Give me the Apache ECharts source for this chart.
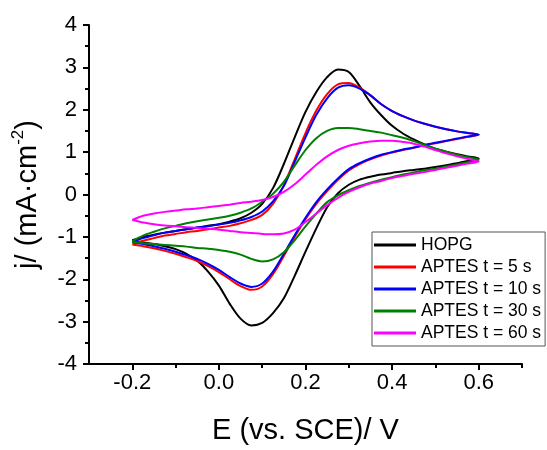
<!DOCTYPE html>
<html><head><meta charset="utf-8">
<script src="https://cdn.jsdelivr.net/npm/echarts@6/dist/echarts.min.js"></script>
<style>html,body{margin:0;padding:0;background:#fff}#c{width:547px;height:450px}</style>
</head><body><div id="c"></div>
<script>
// Potential grid (V vs. SCE), shared by the forward and reverse scans
const potentials = [-0.2, -0.175, -0.15, -0.125, -0.1, -0.075, -0.05, -0.025, 0, 0.025, 0.05, 0.075, 0.1, 0.125, 0.15, 0.175, 0.2, 0.225, 0.25, 0.275, 0.3, 0.325, 0.35, 0.375, 0.4, 0.425, 0.45, 0.475, 0.5, 0.525, 0.55, 0.575, 0.6];
const seriesNames = ['HOPG', 'APTES t = 5 s', 'APTES t = 10 s', 'APTES t = 30 s', 'APTES t = 60 s'];
const seriesColors = ['#000000', '#ff0000', '#0000ff', '#008000', '#ff00ff'];

// current density j (mA/cm2); Fwd = anodic sweep, Rev = cathodic sweep (both listed by increasing E)
const hopgFwd = [-1.08, -1.00, -0.95, -0.90, -0.86, -0.82, -0.78, -0.74, -0.70, -0.64, -0.56, -0.43, -0.22, 0.15, 0.72, 1.35, 1.95, 2.42, 2.77, 2.95, 2.89, 2.56, 2.17, 1.87, 1.62, 1.44, 1.30, 1.18, 1.08, 1.01, 0.95, 0.90, 0.85];
const hopgRev = [-1.10, -1.13, -1.17, -1.22, -1.29, -1.40, -1.56, -1.82, -2.15, -2.58, -2.93, -3.09, -3.03, -2.80, -2.45, -1.92, -1.35, -0.80, -0.30, 0.03, 0.23, 0.35, 0.42, 0.47, 0.51, 0.55, 0.58, 0.61, 0.65, 0.69, 0.74, 0.79, 0.85];

const t5Fwd = [-1.18, -1.09, -1.03, -0.97, -0.93, -0.89, -0.86, -0.82, -0.78, -0.74, -0.68, -0.60, -0.48, -0.22, 0.22, 0.83, 1.45, 1.98, 2.37, 2.60, 2.63, 2.52, 2.34, 2.13, 1.97, 1.85, 1.75, 1.67, 1.60, 1.54, 1.49, 1.45, 1.41];
const t5Rev = [-1.18, -1.22, -1.27, -1.33, -1.40, -1.48, -1.57, -1.69, -1.83, -2.00, -2.16, -2.25, -2.17, -1.88, -1.45, -1.00, -0.58, -0.22, 0.08, 0.35, 0.57, 0.72, 0.83, 0.92, 0.99, 1.05, 1.10, 1.16, 1.21, 1.26, 1.31, 1.36, 1.41];

const t10Fwd = [-1.12, -1.03, -0.96, -0.90, -0.86, -0.82, -0.78, -0.75, -0.71, -0.67, -0.61, -0.53, -0.40, -0.16, 0.20, 0.77, 1.35, 1.88, 2.27, 2.52, 2.58, 2.50, 2.34, 2.13, 1.97, 1.85, 1.75, 1.67, 1.60, 1.54, 1.49, 1.45, 1.41];
const t10Rev = [-1.12, -1.17, -1.22, -1.28, -1.35, -1.43, -1.52, -1.64, -1.78, -1.95, -2.10, -2.18, -2.10, -1.82, -1.40, -0.96, -0.55, -0.18, 0.12, 0.38, 0.60, 0.74, 0.85, 0.94, 1.00, 1.06, 1.11, 1.17, 1.22, 1.27, 1.32, 1.37, 1.41];

const t30Fwd = [-1.10, -0.97, -0.88, -0.80, -0.74, -0.68, -0.63, -0.59, -0.55, -0.50, -0.43, -0.33, -0.17, 0.02, 0.30, 0.68, 1.05, 1.33, 1.50, 1.57, 1.57, 1.54, 1.50, 1.46, 1.40, 1.34, 1.26, 1.17, 1.08, 1.01, 0.94, 0.88, 0.82];
const t30Rev = [-1.12, -1.15, -1.17, -1.19, -1.21, -1.23, -1.26, -1.28, -1.31, -1.35, -1.42, -1.52, -1.58, -1.53, -1.36, -1.08, -0.75, -0.45, -0.18, -0.02, 0.10, 0.20, 0.28, 0.35, 0.41, 0.47, 0.52, 0.57, 0.61, 0.66, 0.71, 0.76, 0.82];

const t60Fwd = [-0.60, -0.50, -0.45, -0.41, -0.38, -0.35, -0.33, -0.30, -0.27, -0.24, -0.20, -0.17, -0.13, -0.06, 0.06, 0.24, 0.47, 0.70, 0.90, 1.05, 1.15, 1.21, 1.25, 1.27, 1.27, 1.24, 1.20, 1.13, 1.05, 0.97, 0.90, 0.84, 0.78];
const t60Rev = [-0.60, -0.66, -0.70, -0.73, -0.75, -0.77, -0.79, -0.81, -0.83, -0.86, -0.89, -0.91, -0.93, -0.94, -0.92, -0.83, -0.65, -0.45, -0.25, -0.08, 0.06, 0.17, 0.26, 0.32, 0.39, 0.44, 0.49, 0.53, 0.58, 0.63, 0.68, 0.73, 0.78];

const xMajorTicks = [-0.2, 0, 0.2, 0.4, 0.6];
const xMinorTicks = [-0.1, 0.1, 0.3, 0.5, 0.7];

const fwdList = [hopgFwd, t5Fwd, t10Fwd, t30Fwd, t60Fwd];
const revList = [hopgRev, t5Rev, t10Rev, t30Rev, t60Rev];

function loop(fwd, rev) {
  const pts = [];
  for (let i = 0; i < potentials.length; i++) pts.push([potentials[i], fwd[i]]);
  for (let i = potentials.length - 2; i >= 0; i--) pts.push([potentials[i], rev[i]]);
  return pts;
}

const FONT = 'Liberation Sans, Arial, sans-serif';
const chart = echarts.init(document.getElementById('c'), null, {renderer: 'canvas'});
chart.setOption({
  animation: false,
  backgroundColor: '#fff',
  grid: {left: 89, right: 25, top: 25, bottom: 77, containLabel: false},
  legend: {
    orient: 'vertical', left: 372, top: 232,
    icon: 'rect', itemWidth: 42, itemHeight: 3, itemGap: 0,
    padding: [2, 4, 2, 2],
    borderColor: '#555', borderWidth: 1, backgroundColor: '#fff',
    textStyle: {fontFamily: FONT, fontSize: 17.5, color: '#000', lineHeight: 22},
    data: seriesNames
  },
  xAxis: [{
    type: 'value', min: -0.3, max: 0.7,
    name: 'E (vs. SCE)/ V', nameLocation: 'middle', nameGap: 52,
    nameTextStyle: {fontFamily: FONT, fontSize: 29, color: '#000'},
    axisLine: {show: true, onZero: false, lineStyle: {color: '#000', width: 2}},
    axisTick: {show: true, customValues: xMajorTicks, length: 6, lineStyle: {color: '#000', width: 2}},
    axisLabel: {customValues: xMajorTicks, margin: 8, fontFamily: FONT, fontSize: 22, color: '#000',
      formatter: v => v.toFixed(1)},
    splitLine: {show: false}
  }, {
    type: 'value', min: -0.3, max: 0.7, position: 'bottom',
    axisLine: {show: false, onZero: false},
    axisTick: {show: true, customValues: xMinorTicks, length: 4, lineStyle: {color: '#000', width: 2}},
    axisLabel: {show: false},
    splitLine: {show: false}
  }],
  yAxis: {
    type: 'value', min: -4, max: 4, interval: 1,
    name: '{a|j/ (mA·cm}{s|-2}{a|)}', nameLocation: 'middle', nameGap: 47, nameRotate: 90,
    nameTextStyle: {
      rich: {
        a: {fontFamily: FONT, fontSize: 29, color: '#000', verticalAlign: 'bottom', lineHeight: 32},
        s: {fontFamily: FONT, fontSize: 17, color: '#000', verticalAlign: 'top', lineHeight: 32}
      }
    },
    axisLine: {show: true, onZero: false, lineStyle: {color: '#000', width: 2}},
    axisTick: {show: true, length: 6, lineStyle: {color: '#000', width: 2}},
    minorTick: {show: true, splitNumber: 2, length: 4, lineStyle: {color: '#000', width: 2}},
    axisLabel: {margin: 12, fontFamily: FONT, fontSize: 22, color: '#000'},
    splitLine: {show: false}
  },
  series: seriesNames.map((n, k) => ({
    name: n, type: 'line', xAxisIndex: 0,
    data: loop(fwdList[k], revList[k]),
    smooth: 0.3, symbol: 'none', showSymbol: false,
    color: seriesColors[k],
    lineStyle: {color: seriesColors[k], width: 2},
    z: 2 + k
  }))
});
</script></body></html>
